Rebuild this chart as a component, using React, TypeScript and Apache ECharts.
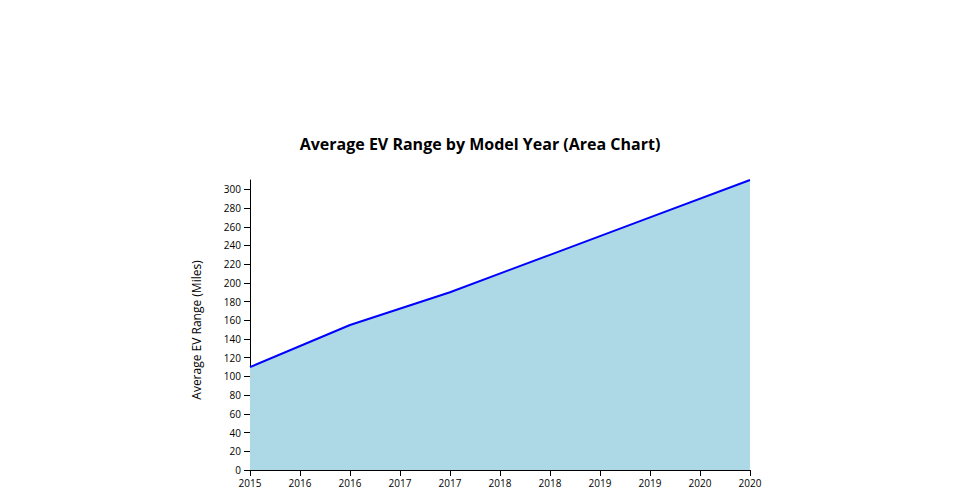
import React, { useEffect, useRef } from "react";
import * as echarts from "echarts";

const years = [2015, 2016, 2017, 2018, 2019, 2020];
const avgRange = [110, 155, 190, 230, 270, 310];
const titleText = "Average EV Range by Model Year (Area Chart)";
const yAxisTitle = "Average EV Range (Miles)";

export default function App() {
  const ref = useRef<HTMLDivElement>(null);
  useEffect(() => {
    const chart = echarts.init(ref.current!, null, { renderer: "svg" });
    const font = "'Open Sans', 'Noto Sans', sans-serif";
    chart.setOption({
      animation: false,
      textStyle: { fontFamily: font },
      title: {
        text: titleText,
        left: "center",
        top: 131,
        textStyle: { fontFamily: font, fontSize: 16, fontWeight: "bold", color: "#000" },
      },
      grid: { left: 250, right: 210, top: 180, bottom: 30, containLabel: false },
      graphic: [
        {
          type: "text",
          x: 196,
          y: 330,
          rotation: Math.PI / 2,
          style: {
            text: yAxisTitle,
            fill: "#000",
            fontSize: 12,
            fontFamily: font,
            align: "center",
            verticalAlign: "middle",
          },
        },
      ],
      xAxis: {
        type: "value",
        min: 2015,
        max: 2020,
        interval: 0.5,
        axisLine: { lineStyle: { color: "#000", width: 1 } },
        axisTick: { inside: false, length: 6, lineStyle: { color: "#000" } },
        axisLabel: {
          color: "#000",
          fontSize: 10,
          fontFamily: font,
          margin: 8,
          formatter: (v: number) => String(Math.round(v)),
        },
        splitLine: { show: false },
      },
      yAxis: {
        type: "value",
        min: 0,
        max: 310,
        interval: 20,
        axisLine: { show: true, lineStyle: { color: "#000", width: 1 } },
        axisTick: { show: true, inside: false, length: 6, lineStyle: { color: "#000" } },
        axisLabel: { color: "#000", fontSize: 10, fontFamily: font, margin: 9,
          showMaxLabel: false },
        splitLine: { show: false },
      },
      series: [
        {
          type: "line",
          data: years.map((y, i) => [y, avgRange[i]]),
          showSymbol: false,
          symbol: "none",
          lineStyle: { color: "#0000ff", width: 2 },
          areaStyle: { color: "#add8e6", opacity: 1 },
        },
      ],
    });
    return () => chart.dispose();
  }, []);
  return (
    <div
      ref={ref}
      style={{ position: "fixed", left: 0, top: 0, width: 960, height: 500, background: "#fff" }}
    />
  );
}
